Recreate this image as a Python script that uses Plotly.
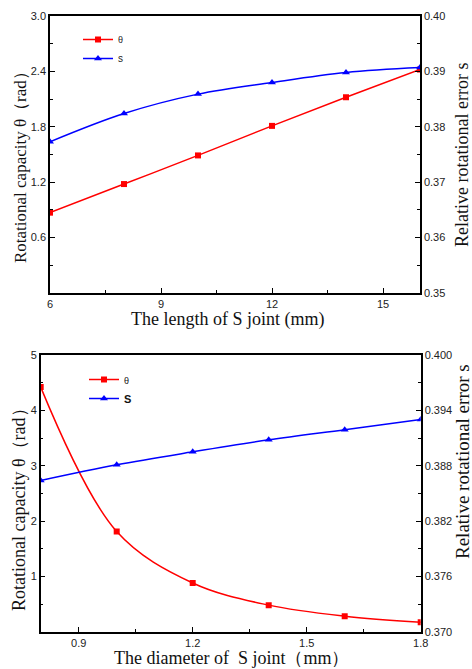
import plotly.graph_objects as go
from plotly.subplots import make_subplots

# ---- data: top panel (length of S joint) ----
length_mm = [6, 8, 10, 12, 14, 16]
theta_len = [0.87, 1.18, 1.49, 1.81, 2.12, 2.42]
s_len = [0.3773, 0.3824, 0.3859, 0.3880, 0.3898, 0.3907]

# ---- data: bottom panel (diameter of S joint) ----
diam_mm = [0.8, 1.0, 1.2, 1.4, 1.6, 1.8]
theta_diam = [4.42, 1.81, 0.88, 0.48, 0.28, 0.17]
s_diam = [0.3864, 0.3881, 0.3895, 0.3908, 0.3919, 0.3930]

W, H = 472, 669
RED, BLUE = "#ff0000", "#0000ff"
SERIF = "Liberation Serif, Times New Roman, serif"
SANS = "Liberation Sans, Arial, sans-serif"

fig = make_subplots(rows=2, cols=1,
                    specs=[[{"secondary_y": True}], [{"secondary_y": True}]])

theta_name = "<span style='font-size:9px'>θ</span>"
fig.add_trace(go.Scatter(x=length_mm, y=theta_len, name=theta_name, mode="lines+markers",
                         line=dict(color=RED, width=1.5, shape="spline"),
                         marker=dict(symbol="square", size=6, color=RED), legend="legend"),
              row=1, col=1, secondary_y=False)
fig.add_trace(go.Scatter(x=length_mm, y=s_len, name="s", mode="lines+markers",
                         line=dict(color=BLUE, width=1.5, shape="spline"),
                         marker=dict(symbol="triangle-up", size=7, color=BLUE), legend="legend"),
              row=1, col=1, secondary_y=True)
fig.add_trace(go.Scatter(x=diam_mm, y=theta_diam, name=theta_name, mode="lines+markers",
                         line=dict(color=RED, width=1.5, shape="spline"),
                         marker=dict(symbol="square", size=6, color=RED), legend="legend2"),
              row=2, col=1, secondary_y=False)
fig.add_trace(go.Scatter(x=diam_mm, y=s_diam, name="<b>S</b>", mode="lines+markers",
                         line=dict(color=BLUE, width=1.5, shape="spline"),
                         marker=dict(symbol="triangle-up", size=7, color=BLUE), legend="legend2"),
              row=2, col=1, secondary_y=True)

ax_common = dict(showline=True, linecolor="black", linewidth=1.5, ticks="inside",
                 ticklen=5, tickwidth=1.2, tickcolor="black", showgrid=False,
                 zeroline=False, automargin=False,
                 tickfont=dict(family=SANS, size=11, color="#222"))

def minor(t0, dt):
    return dict(tickmode="linear", tick0=t0, dtick=dt, ticks="inside", ticklen=3,
                tickwidth=1.2, tickcolor="black", showgrid=False)

# panel geometry (pixels -> paper)
tx = [50 / W, 420 / W]
ty = [1 - 293 / H, 1 - 16 / H]
bx = [40.7 / W, 420.7 / W]
by = [1 - 631.7 / H, 1 - 355 / H]

fig.update_layout(
    xaxis=dict(**ax_common, domain=tx, range=[6, 16], tickmode="linear", tick0=6, dtick=3,
               minor=minor(6, 1.5), mirror=True),
    yaxis=dict(**ax_common, domain=ty, range=[0, 3], tickvals=[0.6, 1.2, 1.8, 2.4, 3.0],
               ticktext=["0.6", "1.2", "1.8", "2.4", "3.0"], minor=minor(0, 0.3)),
    yaxis2=dict(**ax_common, range=[0.35, 0.40], tickmode="linear", tick0=0.35, dtick=0.01,
                tickformat=".2f", minor=minor(0.35, 0.005), side="right"),
    xaxis2=dict(**ax_common, domain=bx, range=[0.8, 1.8], tickvals=[0.9, 1.2, 1.5, 1.8],
                ticktext=["0.9", "1.2", "1.5", "1.8"], minor=minor(0.75, 0.15), mirror=True),
    yaxis3=dict(**ax_common, domain=by, range=[0, 5], tickvals=[1, 2, 3, 4, 5],
                minor=minor(0, 0.5)),
    yaxis4=dict(**ax_common, range=[0.370, 0.400], tickmode="linear", tick0=0.37, dtick=0.006,
                tickformat=".3f", minor=minor(0.37, 0.003), side="right"),
)
fig.update_layout(
    width=W, height=H, margin=dict(l=0, r=0, t=0, b=0, autoexpand=False),
    paper_bgcolor="white", plot_bgcolor="white",
    legend=dict(x=78 / W, y=1 - 25 / H, xanchor="left", yanchor="top",
                bgcolor="rgba(0,0,0,0)", font=dict(family=SANS, size=10, color="#222"),
                itemwidth=30, tracegroupgap=0),
    legend2=dict(x=84 / W, y=1 - 365 / H, xanchor="left", yanchor="top",
                 bgcolor="rgba(0,0,0,0)", font=dict(family=SANS, size=11, color="#111"),
                 itemwidth=30, tracegroupgap=0),
    showlegend=True,
)

def title(text, x, y, size, angle=0):
    fig.add_annotation(text=text, x=x / W, y=1 - y / H, xref="paper", yref="paper",
                       showarrow=False, textangle=angle, xanchor="center", yanchor="middle",
                       font=dict(family=SERIF, size=size, color="#111"))

title("The length of S joint (mm)", 227, 319, 18)
title("Rotational capacity θ（rad）", 20, 163, 17, -90)
title("Relative rotational error s", 462, 155, 18, -90)
title("The diameter of  S joint（mm）", 231.5, 658, 18)
title("Rotational capacity θ（rad）", 19, 505, 18, -90)
title("Relative rotational error s", 462, 462, 19, -90)

fig.write_html("out.html", config={"displayModeBar": False},
               post_script="document.body.style.margin='0';document.body.style.overflow='hidden';")
